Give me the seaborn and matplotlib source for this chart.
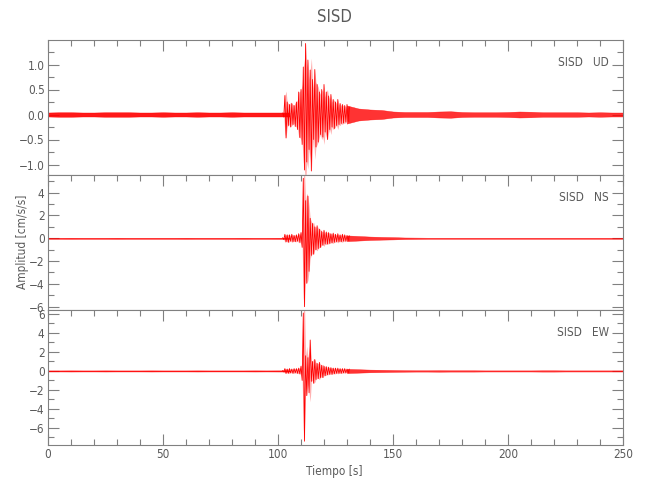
import numpy as np
import pandas as pd
import matplotlib
matplotlib.use("Agg")
import matplotlib.pyplot as plt
import seaborn as sns
from matplotlib.ticker import MultipleLocator

# parte fuerte: picos alternos (cm/s/s), 102-131 s cada 0.5 s
ud_main = [0.03, -0.05, 0.38, -0.47, 0.25, -0.22, 0.20, -0.25, 0.22, -0.20,
           0.18, -0.24, 0.25, -0.30, 0.45, -0.46, 0.50, -0.60, 0.95, -1.11,
           1.42, -0.95, 1.09, -0.70, 0.89, -1.13, 0.70, -0.50, 0.90, -0.65,
           0.60, -0.55, 0.45, -0.40, 0.50, -0.45, 0.60, -0.35, 0.45, -0.50,
           0.37, -0.30, 0.40, -0.25, 0.30, -0.28, 0.25, -0.22, 0.30, -0.20,
           0.22, -0.18, 0.20, -0.17, 0.18, -0.15, 0.20, -0.14, 0.15]
ns_main = [0.05, -0.10, 0.35, -0.30, 0.30, -0.35, 0.30, -0.25, 0.35, -0.30,
           0.25, -0.30, 0.30, -0.25, 0.40, -0.35, 0.50, -0.80, 5.26, -6.00,
           3.30, -3.95, 3.70, -2.90, 1.75, -1.50, 1.30, -1.40, 1.00, -1.00,
           1.10, -0.90, 0.80, -0.80, 0.60, -0.60, 0.70, -0.50, 0.55, -0.50,
           0.50, -0.45, 0.40, -0.40, 0.45, -0.35, 0.35, -0.30, 0.40, -0.30,
           0.30, -0.30, 0.35, -0.25, 0.30, -0.25, 0.25, -0.20, 0.22]
ew_main = [0.05, -0.10, 0.25, -0.25, 0.20, -0.25, 0.25, -0.20, 0.20, -0.25,
           0.25, -0.20, 0.25, -0.25, 0.30, -0.30, 0.50, -1.00, 6.10, -7.40,
           1.60, -2.60, 1.40, -2.30, 3.26, -1.10, 1.00, -1.30, 1.20, -0.90,
           0.80, -0.80, 0.90, -0.70, 0.60, -0.70, 0.50, -0.50, 0.45, -0.40,
           0.40, -0.35, 0.35, -0.35, 0.30, -0.30, 0.30, -0.25, 0.30, -0.25,
           0.25, -0.25, 0.25, -0.20, 0.25, -0.20, 0.20, -0.20, 0.20]

# ruido: semiancho de la banda leído de la figura
# antes del evento 0-105 s cada 5 s; cola 130-250 s cada 5 s
ud_pre = [0.04, 0.045, 0.045, 0.04, 0.04, 0.045, 0.045, 0.045, 0.04, 0.04, 0.045,
          0.04, 0.04, 0.045, 0.04, 0.04, 0.045, 0.04, 0.04, 0.04, 0.04, 0.04]
ud_tail = [0.18, 0.12, 0.10, 0.09, 0.06, 0.05, 0.05, 0.05, 0.06, 0.065, 0.05,
           0.045, 0.045, 0.045, 0.05, 0.06, 0.055, 0.045, 0.045, 0.045, 0.045,
           0.04, 0.045, 0.04, 0.04]
ns_pre = [0.045, 0.045, 0.05, 0.045, 0.045, 0.045, 0.05, 0.045, 0.045, 0.045, 0.045,
          0.045, 0.05, 0.045, 0.045, 0.045, 0.045, 0.05, 0.045, 0.045, 0.05, 0.05]
ns_tail = [0.25, 0.20, 0.15, 0.12, 0.10, 0.07, 0.06, 0.05, 0.05, 0.05, 0.05,
           0.05, 0.05, 0.05, 0.05, 0.05, 0.05, 0.05, 0.05, 0.05, 0.05,
           0.05, 0.05, 0.05, 0.05]
ew_pre = [0.055, 0.055, 0.06, 0.055, 0.055, 0.06, 0.055, 0.055, 0.055, 0.06, 0.055,
          0.055, 0.055, 0.06, 0.055, 0.055, 0.055, 0.055, 0.06, 0.055, 0.06, 0.06]
ew_tail = [0.22, 0.18, 0.14, 0.12, 0.10, 0.08, 0.07, 0.07, 0.08, 0.07, 0.07,
           0.07, 0.06, 0.06, 0.06, 0.06, 0.06, 0.07, 0.07, 0.06, 0.06,
           0.06, 0.06, 0.06, 0.06]

main_t0, main_dt = 102.0, 0.5
pre_t0, tail_t0, env_dt = 0.0, 130.0, 5.0

channels = ["UD", "NS", "EW"]
station = "SISD"
ylims = [(-1.21, 1.49), (-6.29, 5.55), (-7.8, 6.42)]
ymajor = [0.5, 2, 2]
yminor = [0.25, 1, 1]

traces = {
    "UD": (ud_pre, ud_main, ud_tail),
    "NS": (ns_pre, ns_main, ns_tail),
    "EW": (ew_pre, ew_main, ew_tail),
}

sns.set_theme(style="ticks")
plt.rcParams['font.family'] = ['DejaVu Sans']
plt.rcParams['font.stretch'] = 'condensed'
plt.rcParams['axes.unicode_minus'] = True

gray = "#808080"
txt = "#5a5a5a"
red = "#ff0000"

fig = plt.figure(figsize=(6.5, 5), dpi=100)
L, W, H = 48 / 650, 575 / 650, 135 / 500
bottoms = [1 - 175 / 500, 1 - 310 / 500, 1 - 445 / 500]

for i, ch in enumerate(channels):
    ax = fig.add_axes([L, bottoms[i], W, H])
    pre, main, tail = traces[ch]

    # bandas de ruido
    for env, t0, a in ((pre, pre_t0, 0.9), (tail, tail_t0, 0.8)):
        te = t0 + env_dt * np.arange(len(env))
        w = np.asarray(env)
        ax.fill_between(te, -w, w, color=red, linewidth=0.3, alpha=a)

    df = pd.DataFrame({"t": main_t0 + main_dt * np.arange(len(main)),
                       "a": main})
    amp = np.abs(df["a"].to_numpy())
    ax.fill_between(df["t"], -amp, amp, color=red, linewidth=0, alpha=0.3)
    sns.lineplot(data=df, x="t", y="a", ax=ax, color=red,
                 linewidth=0.6, estimator=None, sort=False)

    ax.set_xlim(0, 250)
    ax.set_ylim(*ylims[i])
    ax.xaxis.set_major_locator(MultipleLocator(50))
    ax.xaxis.set_minor_locator(MultipleLocator(10))
    ax.yaxis.set_major_locator(MultipleLocator(ymajor[i]))
    ax.yaxis.set_minor_locator(MultipleLocator(yminor[i]))
    last = i == len(channels) - 1
    ax.tick_params(which="both", direction="in", top=True, right=True,
                   bottom=last, labelbottom=last, colors=gray,
                   labelcolor=txt, labelsize=8.5, width=0.8, pad=2.5)
    ax.tick_params(which="major", length=8)
    ax.tick_params(which="minor", length=4)
    for s in ax.spines.values():
        s.set_color(gray)
        s.set_linewidth(0.8)
    ax.set_xlabel("")
    ax.set_ylabel("")
    ax.text(0.976, 0.83, f"{station}   {ch}", transform=ax.transAxes,
            ha="right", va="center", color=txt, fontsize=8.5)

fig.text(0.515, 0.965, station, ha="center", va="center", color=txt, fontsize=12)
fig.text(0.515, 0.058, "Tiempo [s]", ha="center", va="center", color=txt, fontsize=8.5)
fig.text(0.034, 0.516, "Amplitud [cm/s/s]", ha="center", va="center",
         rotation=90, color=txt, fontsize=8.5)

fig.savefig("out.png", dpi=100)
